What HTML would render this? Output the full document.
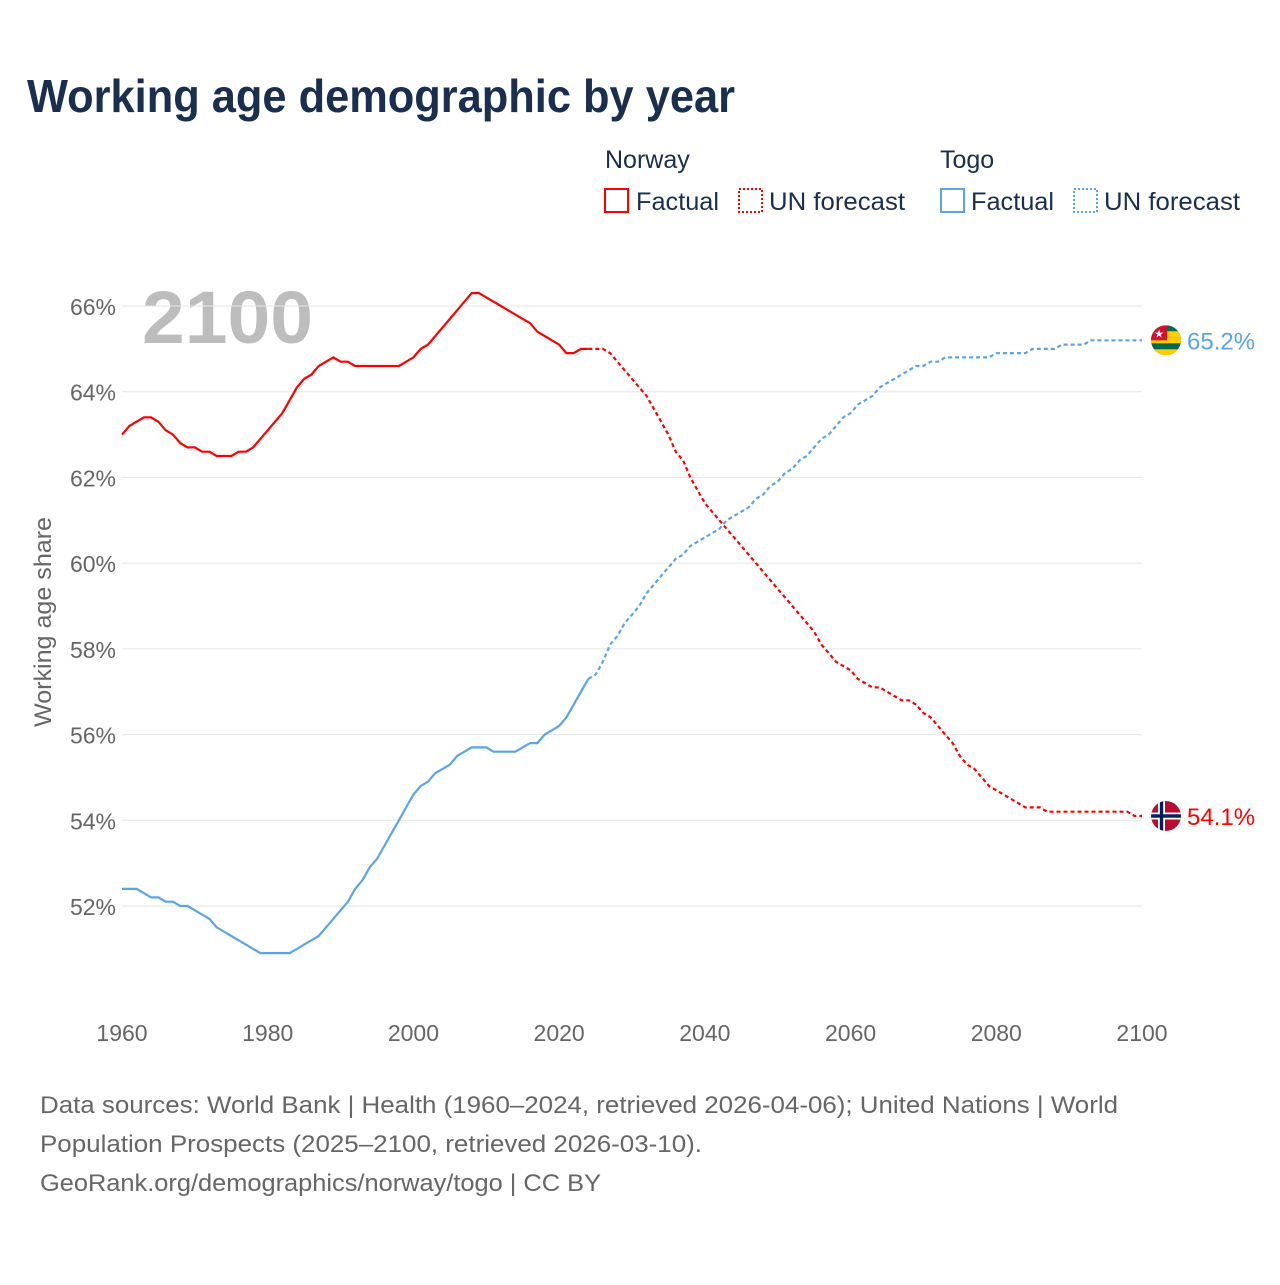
<!DOCTYPE html>
<html><head><meta charset="utf-8">
<style>
body{margin:0;background:#fff;font-family:"Liberation Sans",sans-serif;}
#wrap{position:relative;width:1280px;height:1280px;}
</style></head>
<body>
<div id="wrap">
<svg id="chart" width="1280" height="1280" xmlns="http://www.w3.org/2000/svg">
<defs>
<clipPath id="flagclipT"><circle cx="1166" cy="337" r="15"/></clipPath>
</defs>
<text x="27" y="112" font-size="46" font-weight="bold" fill="#1a2e4f" textLength="708" lengthAdjust="spacingAndGlyphs">Working age demographic by year</text>
<g font-size="25" fill="#1a2e4f">
<text x="605" y="168">Norway</text>
<g><rect x="605" y="189" width="23" height="23" fill="none" stroke="#f00" stroke-width="2"/><text x="636" y="210" textLength="83" lengthAdjust="spacingAndGlyphs">Factual</text></g>
<g><rect x="739" y="189" width="23" height="23" fill="none" stroke="#f00" stroke-width="2" stroke-dasharray="2,2"/><text x="769" y="210" textLength="136" lengthAdjust="spacingAndGlyphs">UN forecast</text></g>
<text x="940" y="168">Togo</text>
<g><rect x="941" y="189" width="23" height="23" fill="none" stroke="#5aa5ea" stroke-width="2"/><text x="971" y="210" textLength="83" lengthAdjust="spacingAndGlyphs">Factual</text></g>
<g><rect x="1074" y="189" width="23" height="23" fill="none" stroke="#5aa5ea" stroke-width="2" stroke-dasharray="2,2"/><text x="1104" y="210" textLength="136" lengthAdjust="spacingAndGlyphs">UN forecast</text></g>
</g>
<text x="142" y="343" font-size="74" font-weight="bold" fill="#bdbdbd" textLength="171" lengthAdjust="spacingAndGlyphs">2100</text>
<g id="grid"></g>
<g id="series"></g>
<text transform="translate(51,622) rotate(-90)" text-anchor="middle" font-size="24" fill="#666" textLength="210" lengthAdjust="spacingAndGlyphs">Working age share</text>
<g font-size="24" fill="#666">
<text x="40" y="1113" textLength="1078" lengthAdjust="spacingAndGlyphs">Data sources: World Bank | Health (1960–2024, retrieved 2026-04-06); United Nations | World</text>
<text x="40" y="1152" textLength="662" lengthAdjust="spacingAndGlyphs">Population Prospects (2025–2100, retrieved 2026-03-10).</text>
<text x="40" y="1191" textLength="561" lengthAdjust="spacingAndGlyphs">GeoRank.org/demographics/norway/togo | CC BY</text>
</g>
</svg>
</div>
<script>
const years = [];
for (let y = 1960; y <= 2100; y++) years.push(y);
const yTicks = [52,54,56,58,60,62,64,66];
const xTicks = [1960,1980,2000,2020,2040,2060,2080,2100];
const lastFactualYear = 2024;
const norway = [63.0,63.2,63.3,63.4,63.4,63.3,63.1,63.0,62.8,62.7,62.7,62.6,62.6,62.5,62.5,62.5,62.6,62.6,62.7,62.9,
63.1,63.3,63.5,63.8,64.1,64.3,64.4,64.6,64.7,64.8,64.7,64.7,64.6,64.6,64.6,64.6,64.6,64.6,64.6,64.7,
64.8,65.0,65.1,65.3,65.5,65.7,65.9,66.1,66.3,66.3,66.2,66.1,66.0,65.9,65.8,65.7,65.6,65.4,65.3,65.2,
65.1,64.9,64.9,65.0,65.0,
65.0,65.0,64.9,64.7,64.5,64.3,64.1,63.9,63.6,63.3,63.0,62.6,62.4,62.0,61.7,61.4,61.2,61.0,60.8,60.6,
60.4,60.2,60.0,59.8,59.6,59.4,59.2,59.0,58.8,58.6,58.4,58.1,57.9,57.7,57.6,57.5,57.3,57.2,57.1,57.1,
57.0,56.9,56.8,56.8,56.7,56.5,56.4,56.2,56.0,55.8,55.5,55.3,55.2,55.0,54.8,54.7,54.6,54.5,54.4,54.3,
54.3,54.3,54.2,54.2,54.2,54.2,54.2,54.2,54.2,54.2,54.2,54.2,54.2,54.2,54.1,54.1];
const togo = [52.4,52.4,52.4,52.3,52.2,52.2,52.1,52.1,52.0,52.0,51.9,51.8,51.7,51.5,51.4,51.3,51.2,51.1,51.0,50.9,
50.9,50.9,50.9,50.9,51.0,51.1,51.2,51.3,51.5,51.7,51.9,52.1,52.4,52.6,52.9,53.1,53.4,53.7,54.0,54.3,
54.6,54.8,54.9,55.1,55.2,55.3,55.5,55.6,55.7,55.7,55.7,55.6,55.6,55.6,55.6,55.7,55.8,55.8,56.0,56.1,
56.2,56.4,56.7,57.0,57.3,
57.4,57.7,58.1,58.3,58.6,58.8,59.0,59.3,59.5,59.7,59.9,60.1,60.2,60.4,60.5,60.6,60.7,60.8,61.0,61.1,
61.2,61.3,61.5,61.6,61.8,61.9,62.1,62.2,62.4,62.5,62.7,62.9,63.0,63.2,63.4,63.5,63.7,63.8,63.9,64.1,
64.2,64.3,64.4,64.5,64.6,64.6,64.7,64.7,64.8,64.8,64.8,64.8,64.8,64.8,64.8,64.9,64.9,64.9,64.9,64.9,
65.0,65.0,65.0,65.0,65.1,65.1,65.1,65.1,65.2,65.2,65.2,65.2,65.2,65.2,65.2,65.2,65.2,65.2];
const NS = "http://www.w3.org/2000/svg";
const X = y => 122 + (y - 1960) * (1020 / 140);
const Y = v => 906 - (v - 52) * (600 / 14);
function mk(tag, attrs, parent) { const e = document.createElementNS(NS, tag); for (const k in attrs) e.setAttribute(k, attrs[k]); parent.appendChild(e); return e; }
const grid = document.getElementById('grid');
yTicks.forEach(t => {
  const l = mk('line', {x1: 122, x2: 1142, y1: Y(t), y2: Y(t), stroke: '#e6e6e6', 'stroke-width': 1}, grid);
  
  
  const tx = mk('text', {x: 116, y: Y(t) + 9, 'text-anchor': 'end', 'font-size': 23, fill: '#666'}, grid);
  tx.textContent = t + '%';
  
  
});
xTicks.forEach(t => {
  const tx = mk('text', {x: X(t), y: 1041, 'text-anchor': 'middle', 'font-size': 23, fill: '#666'}, grid);
  tx.textContent = t;
  
  
});
const S = document.getElementById('series');
function draw(vals, color, name) {
  let f = '', p = '';
  years.forEach((yr, i) => {
    const pt = X(yr).toFixed(1) + ',' + Y(vals[i]).toFixed(1);
    if (yr <= lastFactualYear) f += (f ? ' L' : 'M') + pt;
    if (yr >= lastFactualYear) p += (p ? ' L' : 'M') + pt;
  });
  const a = mk('path', {d: f, fill: 'none', stroke: color, 'stroke-width': 2.2}, S);
  
  
  const b = mk('path', {d: p, fill: 'none', stroke: color, 'stroke-width': 2.2, 'stroke-dasharray': '4,3'}, S);
  
  
  const last = vals[vals.length - 1];
  const cy = Y(last);
  const g = mk('g', {}, S);
  
  
  const cp = mk('clipPath', {id: 'clip-' + name}, S);
  mk('circle', {cx: 1166, cy: cy, r: 15}, cp);
  g.setAttribute('clip-path', 'url(#clip-' + name + ')');
  if (name === 'norway') {
    mk('circle', {cx: 1166, cy: cy, r: 15, fill: '#ba0c2f'}, g);
    mk('rect', {x: 1151, y: cy - 3.5, width: 30, height: 7, fill: '#fff'}, g);
    mk('rect', {x: 1158, y: cy - 15, width: 7, height: 30, fill: '#fff'}, g);
    mk('rect', {x: 1151, y: cy - 1.7, width: 30, height: 3.4, fill: '#00205b'}, g);
    mk('rect', {x: 1159.8, y: cy - 15, width: 3.4, height: 30, fill: '#00205b'}, g);
  } else {
    mk('rect', {x: 1151, y: cy - 15, width: 30, height: 30, fill: '#006a4e'}, g);
    mk('rect', {x: 1151, y: cy - 3, width: 30, height: 6, fill: '#ffce00'}, g);
    mk('rect', {x: 1151, y: cy + 9, width: 30, height: 6, fill: '#ffce00'}, g);
    mk('rect', {x: 1151, y: cy - 9, width: 30, height: 6, fill: '#ffce00'}, g);
    mk('rect', {x: 1151, y: cy - 15, width: 16, height: 15, fill: '#d21034'}, g);
    mk('text', {x: 1159, y: cy - 3, 'font-size': 11, fill: '#fff', 'text-anchor': 'middle'}, g).textContent = '★';
  }
  const lbl = mk('text', {x: 1187, y: cy + 9, 'font-size': 24, fill: color}, S);
  lbl.textContent = last.toFixed(1) + '%';
  
  
}
draw(togo, '#5aa5ea', 'togo');
draw(norway, '#ff0000', 'norway');
</script>
</body></html>
